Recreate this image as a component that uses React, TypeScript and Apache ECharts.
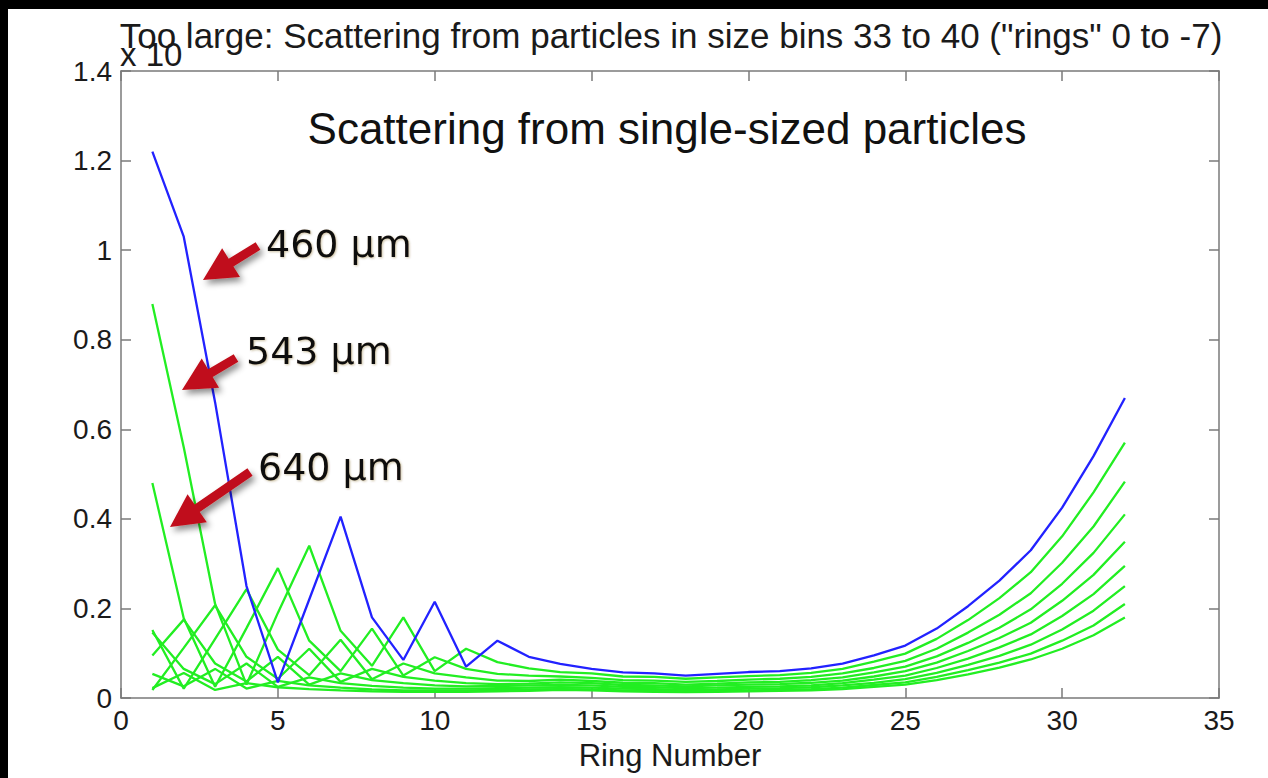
import React, { useEffect, useRef } from "react";
import * as echarts from "echarts";

const rings = [1, 2, 3, 4, 5, 6, 7, 8, 9, 10, 11, 12, 13, 14, 15, 16, 17, 18, 19, 20, 21, 22, 23, 24, 25, 26, 27, 28, 29, 30, 31, 32];

const xTicks = [0, 5, 10, 15, 20, 25, 30, 35];
const yTicks = [0, 0.2, 0.4, 0.6, 0.8, 1, 1.2, 1.4];

const blue460 = [1.22, 1.03, 0.66, 0.25, 0.035, 0.22, 0.405, 0.18, 0.085, 0.215, 0.07, 0.128, 0.092, 0.076, 0.065, 0.057, 0.055, 0.05, 0.054, 0.058, 0.06, 0.066, 0.077, 0.095, 0.117, 0.155, 0.205, 0.262, 0.33, 0.425, 0.54, 0.67];

const green543 = [0.88, 0.56, 0.21, 0.03, 0.19, 0.34, 0.15, 0.072, 0.18, 0.06, 0.11, 0.08, 0.066, 0.058, 0.055, 0.048, 0.047, 0.043, 0.046, 0.049, 0.051, 0.056, 0.065, 0.081, 0.099, 0.132, 0.174, 0.223, 0.281, 0.361, 0.459, 0.57];
const green640 = [0.48, 0.178, 0.025, 0.156, 0.29, 0.128, 0.06, 0.155, 0.05, 0.091, 0.065, 0.054, 0.05, 0.048, 0.045, 0.04, 0.039, 0.036, 0.038, 0.041, 0.043, 0.047, 0.055, 0.067, 0.083, 0.11, 0.146, 0.186, 0.234, 0.302, 0.383, 0.483];
const greenBin35 = [0.152, 0.021, 0.132, 0.243, 0.108, 0.051, 0.13, 0.042, 0.077, 0.055, 0.046, 0.039, 0.038, 0.041, 0.038, 0.034, 0.033, 0.03, 0.032, 0.035, 0.036, 0.04, 0.046, 0.057, 0.07, 0.093, 0.123, 0.157, 0.198, 0.255, 0.324, 0.41];
const greenBin36 = [0.018, 0.112, 0.207, 0.092, 0.043, 0.11, 0.036, 0.065, 0.047, 0.039, 0.033, 0.031, 0.032, 0.035, 0.033, 0.029, 0.028, 0.026, 0.028, 0.03, 0.031, 0.034, 0.039, 0.048, 0.06, 0.079, 0.105, 0.134, 0.168, 0.217, 0.275, 0.349];
const greenBin37 = [0.095, 0.175, 0.077, 0.037, 0.092, 0.03, 0.055, 0.04, 0.033, 0.028, 0.026, 0.027, 0.028, 0.029, 0.028, 0.025, 0.024, 0.022, 0.023, 0.025, 0.026, 0.028, 0.033, 0.041, 0.05, 0.067, 0.088, 0.113, 0.142, 0.183, 0.232, 0.295];
const greenBin38 = [0.146, 0.065, 0.031, 0.077, 0.025, 0.046, 0.033, 0.027, 0.023, 0.021, 0.021, 0.022, 0.023, 0.024, 0.023, 0.021, 0.02, 0.018, 0.019, 0.021, 0.022, 0.024, 0.028, 0.034, 0.042, 0.056, 0.074, 0.094, 0.119, 0.153, 0.195, 0.25];
const greenBin39 = [0.054, 0.026, 0.065, 0.021, 0.038, 0.028, 0.023, 0.019, 0.017, 0.017, 0.017, 0.018, 0.019, 0.02, 0.019, 0.017, 0.017, 0.015, 0.016, 0.017, 0.018, 0.02, 0.023, 0.029, 0.035, 0.047, 0.062, 0.079, 0.099, 0.128, 0.162, 0.21];
const greenBin40 = [0.022, 0.056, 0.018, 0.033, 0.024, 0.02, 0.017, 0.015, 0.014, 0.014, 0.014, 0.015, 0.016, 0.018, 0.017, 0.015, 0.014, 0.013, 0.014, 0.015, 0.016, 0.017, 0.02, 0.025, 0.03, 0.04, 0.053, 0.068, 0.086, 0.11, 0.14, 0.18];

const greenSeries = [
  { name: "543 µm", values: green543 },
  { name: "640 µm", values: green640 },
  { name: "bin 35", values: greenBin35 },
  { name: "bin 36", values: greenBin36 },
  { name: "bin 37", values: greenBin37 },
  { name: "bin 38", values: greenBin38 },
  { name: "bin 39", values: greenBin39 },
  { name: "bin 40", values: greenBin40 },
];

const titleText = 'Too large: Scattering from particles in size bins 33 to 40 ("rings" 0 to -7)';
const innerTitle = "Scattering from single-sized particles";
const exponentText = "x 10";
const xName = "Ring Number";

const SANS = "'Liberation Sans', Arial, Helvetica, sans-serif";
const AXIS_COLOR = "#7a7a7a";
const TEXT_COLOR = "#1a1a1a";

function arrowPoints(tip: number[], tail: number[], headLen: number, headHalf: number, shaftHalf: number) {
  const dx = tail[0] - tip[0];
  const dy = tail[1] - tip[1];
  const L = Math.hypot(dx, dy);
  const ux = dx / L, uy = dy / L;
  const nx = -uy, ny = ux;
  const bx = tip[0] + ux * headLen, by = tip[1] + uy * headLen;
  return [
    [tip[0], tip[1]],
    [bx + nx * headHalf, by + ny * headHalf],
    [bx + nx * shaftHalf, by + ny * shaftHalf],
    [tail[0] + nx * shaftHalf, tail[1] + ny * shaftHalf],
    [tail[0] - nx * shaftHalf, tail[1] - ny * shaftHalf],
    [bx - nx * shaftHalf, by - ny * shaftHalf],
    [bx - nx * headHalf, by - ny * headHalf],
  ];
}

function arrow(tip: number[], tail: number[]) {
  return {
    type: "polygon",
    shape: { points: arrowPoints(tip, tail, 33, 17, 4.5) },
    style: {
      fill: "#c0111a",
      shadowBlur: 6,
      shadowColor: "rgba(0,0,0,0.45)",
      shadowOffsetX: 3,
      shadowOffsetY: 4,
    },
    z: 100,
  };
}

function label(text: string, x: number, y: number) {
  return {
    type: "text",
    x,
    y,
    style: {
      text,
      fill: "#111",
      font: "38px 'DejaVu Sans', sans-serif",
      align: "left",
      verticalAlign: "middle",
      textShadowColor: "rgba(110,80,0,0.35)",
      textShadowBlur: 2,
      textShadowOffsetX: 1,
      textShadowOffsetY: 1,
    },
    z: 100,
  };
}

export default function App() {
  const ref = useRef<HTMLDivElement>(null);

  useEffect(() => {
    if (!ref.current) return;
    const chart = echarts.init(ref.current, null, { renderer: "svg" });

    const axisLine = { show: true, onZero: false, lineStyle: { color: AXIS_COLOR, width: 1.5 } };
    const axisTick = { show: true, inside: true, length: 10, lineStyle: { color: AXIS_COLOR, width: 1.5 } };
    const axisLabelStyle = { fontSize: 28, color: TEXT_COLOR, fontFamily: SANS };

    const series: any[] = greenSeries.map((g) => ({
      name: g.name,
      type: "line",
      xAxisIndex: 0,
      yAxisIndex: 0,
      showSymbol: false,
      symbol: "none",
      data: rings.map((r, i) => [r, g.values[i]]),
      lineStyle: { color: "#22ee22", width: 2.3 },
      z: 2,
    }));
    series.push({
      name: "460 µm",
      type: "line",
      xAxisIndex: 0,
      yAxisIndex: 0,
      showSymbol: false,
      symbol: "none",
      data: rings.map((r, i) => [r, blue460[i]]),
      lineStyle: { color: "#2222ff", width: 2.3 },
      z: 3,
    });

    chart.setOption({
      animation: false,
      backgroundColor: "#ffffff",
      grid: { left: 121, right: 49, top: 71, bottom: 80, containLabel: false },
      xAxis: [
        {
          type: "value",
          position: "bottom",
          min: xTicks[0],
          max: xTicks[xTicks.length - 1],
          interval: 5,
          axisLine,
          axisTick,
          splitLine: { show: false },
          axisLabel: { ...axisLabelStyle, margin: 8 },
          name: xName,
          nameLocation: "middle",
          nameGap: 42,
          nameTextStyle: { fontSize: 31, color: TEXT_COLOR, fontFamily: SANS },
        },
        {
          type: "value",
          position: "top",
          min: xTicks[0],
          max: xTicks[xTicks.length - 1],
          interval: 5,
          axisLine,
          axisTick,
          splitLine: { show: false },
          axisLabel: { show: false },
        },
      ],
      yAxis: [
        {
          type: "value",
          position: "left",
          min: yTicks[0],
          max: yTicks[yTicks.length - 1],
          interval: 0.2,
          axisLine,
          axisTick,
          splitLine: { show: false },
          axisLabel: { ...axisLabelStyle, margin: 9 },
        },
        {
          type: "value",
          position: "right",
          min: yTicks[0],
          max: yTicks[yTicks.length - 1],
          interval: 0.2,
          axisLine,
          axisTick,
          splitLine: { show: false },
          axisLabel: { show: false },
        },
      ],
      series,
      graphic: [
        { type: "rect", shape: { x: 0, y: 0, width: 1268, height: 9 }, style: { fill: "#000" }, z: 200 },
        { type: "rect", shape: { x: 0, y: 0, width: 8, height: 778 }, style: { fill: "#000" }, z: 200 },
        {
          type: "text",
          x: 120,
          y: 54,
          style: { text: exponentText, fill: TEXT_COLOR, font: `33px ${SANS}`, align: "left", verticalAlign: "middle" },
          z: 50,
        },
        {
          type: "text",
          x: 671,
          y: 35,
          style: { text: titleText, fill: TEXT_COLOR, font: `35px ${SANS}`, align: "center", verticalAlign: "middle" },
          z: 51,
        },
        {
          type: "text",
          x: 667,
          y: 128,
          style: { text: innerTitle, fill: "#111", font: `44px ${SANS}`, align: "center", verticalAlign: "middle" },
          z: 50,
        },
        arrow([203, 280], [258, 246]),
        arrow([182, 390], [236, 358]),
        arrow([170, 527], [250, 472]),
        label("460 µm", 266, 244),
        label("543 µm", 246, 351),
        label("640 µm", 258, 467),
      ],
    });

    return () => chart.dispose();
  }, []);

  return (
    <div
      ref={ref}
      style={{ position: "fixed", left: 0, top: 0, width: 1268, height: 778, background: "#fff" }}
    />
  );
}
